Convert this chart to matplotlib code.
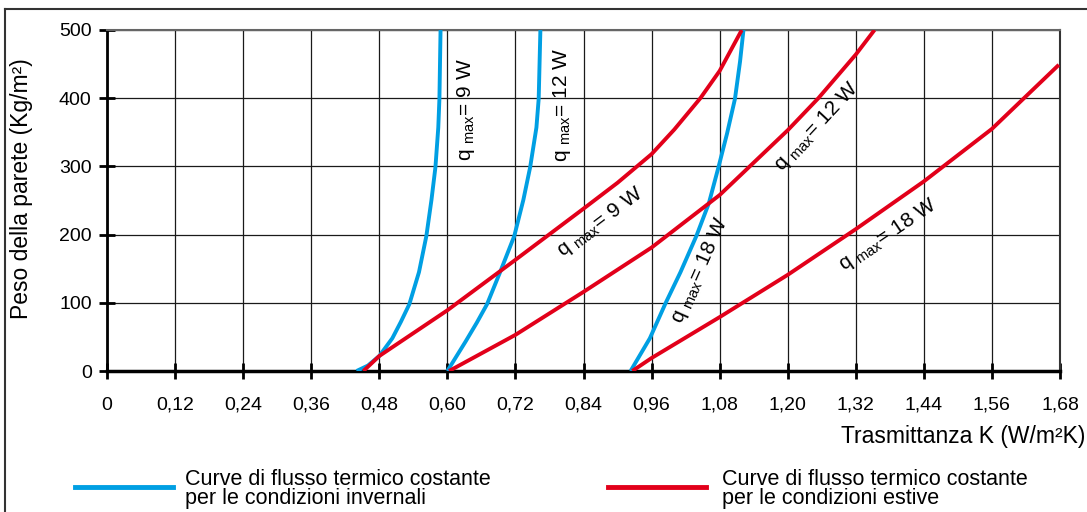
import matplotlib
matplotlib.use('Agg')
import matplotlib.pyplot as plt
from matplotlib.lines import Line2D

plt.rcParams['font.family'] = ['Liberation Sans', 'DejaVu Sans']
plt.rcParams['mathtext.fontset'] = 'custom'
plt.rcParams['mathtext.rm'] = 'Liberation Sans'
plt.rcParams['mathtext.it'] = 'Liberation Sans'

BLUE = '#009FE3'
RED = '#E2001A'

# winter curves (blue), read at grid crossings
k_win_9 = [0.440, 0.460, 0.480, 0.503, 0.518, 0.533, 0.550, 0.563, 0.572, 0.579, 0.584, 0.586, 0.588]
p_win_9 = [0, 8, 22, 48, 72, 98, 145, 198, 251, 299, 357, 399, 500]
k_win_12 = [0.600, 0.632, 0.652, 0.670, 0.693, 0.718, 0.734, 0.746, 0.757, 0.761, 0.764]
p_win_12 = [0, 43, 71, 98, 145, 198, 251, 299, 357, 399, 500]
k_win_18 = [0.923, 0.957, 0.985, 1.011, 1.039, 1.061, 1.078, 1.093, 1.107, 1.116, 1.122]
p_win_18 = [0, 48, 100, 145, 198, 246, 299, 348, 399, 454, 500]

# summer curves (red)
k_sum_9 = [0.452, 0.480, 0.600, 0.720, 0.840, 0.900, 0.960, 1.000, 1.046, 1.080, 1.119]
p_sum_9 = [0, 22, 89, 163, 238, 276, 318, 354, 400, 440, 500]
k_sum_12 = [0.603, 0.720, 0.840, 0.960, 1.080, 1.200, 1.254, 1.320, 1.353]
p_sum_12 = [0, 53, 116, 181, 258, 353, 400, 464, 500]
k_sum_18 = [0.926, 0.960, 1.080, 1.200, 1.320, 1.440, 1.560, 1.678]
p_sum_18 = [0, 19, 79, 141, 208, 278, 355, 449]

x_ticks = [0, 0.12, 0.24, 0.36, 0.48, 0.60, 0.72, 0.84, 0.96, 1.08, 1.20, 1.32, 1.44, 1.56, 1.68]
x_labels = ['0', '0,12', '0,24', '0,36', '0,48', '0,60', '0,72', '0,84', '0,96',
            '1,08', '1,20', '1,32', '1,44', '1,56', '1,68']
y_ticks = [0, 100, 200, 300, 400, 500]

# curve labels: (text, K, P, rotation)
labels = [
    (r'q $_{\mathrm{max}}$= 9 W', 0.633, 384, 90),
    (r'q $_{\mathrm{max}}$= 12 W', 0.802, 390, 90),
    (r'q $_{\mathrm{max}}$= 18 W', 1.045, 148, 66),
    (r'q $_{\mathrm{max}}$= 9 W', 0.869, 218, 37),
    (r'q $_{\mathrm{max}}$= 12 W', 1.251, 358, 47),
    (r'q $_{\mathrm{max}}$= 18 W', 1.377, 199, 34),
]

fig = plt.figure(figsize=(10.87, 5.12), dpi=100)
ax = fig.add_axes([107 / 1087, 1 - 371 / 512, (1060 - 107) / 1087, (371 - 30) / 512])

lw = 2.8
for k, p in [(k_win_9, p_win_9), (k_win_12, p_win_12), (k_win_18, p_win_18)]:
    ax.plot(k, p, color=BLUE, lw=lw, solid_capstyle='butt', solid_joinstyle='round', zorder=3)
for k, p in [(k_sum_9, p_sum_9), (k_sum_12, p_sum_12), (k_sum_18, p_sum_18)]:
    ax.plot(k, p, color=RED, lw=lw, solid_capstyle='butt', solid_joinstyle='round', zorder=3)

for txt, k, p, rot in labels:
    ax.text(k, p, txt, rotation=rot, ha='center', va='center', fontsize=15,
            rotation_mode='anchor', zorder=4)

ax.set_xlim(0, 1.68)
ax.set_ylim(0, 500)
ax.set_xticks(x_ticks)
ax.set_xticklabels(x_labels)
ax.set_yticks(y_ticks)
ax.grid(True, color='#1a1a1a', lw=0.9)
ax.set_axisbelow(True)

ax.tick_params(axis='x', direction='inout', length=11, width=2, pad=13, labelsize=14)
ax.tick_params(axis='y', direction='inout', length=12, width=2, pad=5, labelsize=14)
ax.spines['bottom'].set_linewidth(2.5)
ax.spines['left'].set_linewidth(2)
ax.spines['top'].set_color('#666666')
ax.spines['top'].set_linewidth(1.5)
ax.spines['right'].set_color('#333333')
ax.spines['right'].set_linewidth(1.5)

fig.text(1085 / 1087, 1 - 437 / 512, 'Trasmittanza K (W/m²K)', ha='right', va='center', fontsize=16.5)
fig.text(22 / 1087, 1 - 189 / 512, 'Peso della parete (Kg/m²)', rotation=90,
         ha='center', va='center', fontsize=16.5)

# legend
ly = 1 - 487 / 512
fig.add_artist(Line2D([75 / 1087, 173 / 1087], [ly, ly], color=BLUE, lw=3.5))
fig.text(185 / 1087, 1 - 489 / 512, 'Curve di flusso termico costante\nper le condizioni invernali',
         ha='left', va='center', fontsize=15.5, linespacing=0.9)
fig.add_artist(Line2D([608 / 1087, 706 / 1087], [ly, ly], color=RED, lw=3.5))
fig.text(722 / 1087, 1 - 489 / 512, 'Curve di flusso termico costante\nper le condizioni estive',
         ha='left', va='center', fontsize=15.5, linespacing=0.9)

# outer frame (top and left)
fig.add_artist(Line2D([5 / 1087, 1], [1 - 9 / 512, 1 - 9 / 512], color='#333333', lw=1.5))
fig.add_artist(Line2D([5 / 1087, 5 / 1087], [0, 1 - 9 / 512], color='#333333', lw=1.5))

fig.savefig('out.png', dpi=100)
